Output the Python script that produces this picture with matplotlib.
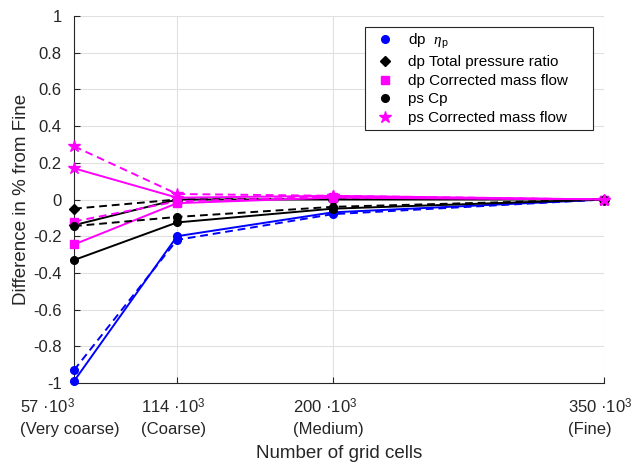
import matplotlib
matplotlib.use("Agg")
import matplotlib.pyplot as plt
import matplotlib.transforms as mtransforms
from matplotlib.lines import Line2D

plt.rcParams['font.family'] = ['Liberation Sans', 'DejaVu Sans']
plt.rcParams['mathtext.fontset'] = 'custom'
plt.rcParams['mathtext.rm'] = 'Liberation Sans'
plt.rcParams['mathtext.it'] = 'Liberation Serif:italic'

# Data
grid_cells = [57, 114, 200, 350]
tick_labels = ["57 \u00b710$^{3}$" + "\n(Very coarse)",
               "114 \u00b710$^{3}$" + "\n(Coarse)",
               "200 \u00b710$^{3}$" + "\n(Medium)",
               "350 \u00b710$^{3}$" + "\n(Fine)"]

dp_eta_solid = [-0.99, -0.20, -0.07, 0.0]
dp_eta_dashed = [-0.93, -0.22, -0.08, 0.0]
dp_tpr_solid = [-0.14, 0.0, 0.0, 0.0]
dp_tpr_dashed = [-0.05, 0.0, 0.005, 0.0]
dp_mass_solid = [-0.245, -0.02, 0.01, 0.0]
dp_mass_dashed = [-0.12, -0.01, 0.015, 0.0]
ps_cp_solid = [-0.33, -0.125, -0.05, 0.0]
ps_cp_dashed = [-0.145, -0.095, -0.04, 0.0]
ps_mass_solid = [0.17, 0.01, 0.02, 0.0]
ps_mass_dashed = [0.29, 0.03, 0.02, 0.0]

legend_labels = [r"dp  $\it{\eta}_{\rm p}$", "dp Total pressure ratio",
                 "dp Corrected mass flow", "ps Cp", "ps Corrected mass flow"]

BLUE = (0, 0, 1)
BLACK = (0, 0, 0)
MAG = (1, 0, 1)
DARK = (0.15, 0.15, 0.15)

fig = plt.figure(figsize=(6.34, 4.63), dpi=100)
ax = fig.add_axes([74/634, 1 - 383/463, 530/634, 367/463])

lw = 1.4
series = [
    (dp_eta_solid, dp_eta_dashed, BLUE, 'o', 5.5),
    (dp_tpr_solid, dp_tpr_dashed, BLACK, 'D', 5),
    (dp_mass_solid, dp_mass_dashed, MAG, 's', 5.5),
    (ps_cp_solid, ps_cp_dashed, BLACK, 'o', 5.5),
    (ps_mass_solid, ps_mass_dashed, MAG, '*', 9),
]
for s, d, c, m, ms in series:
    ax.plot(grid_cells, d, '--', color=c, marker=m, ms=ms, lw=lw, dashes=(4, 2.5), clip_on=False, zorder=3)
    ax.plot(grid_cells, s, '-', color=c, marker=m, ms=ms, lw=lw, clip_on=False, zorder=3)

ax.set_xlim(57, 350)
ax.set_ylim(-1, 1)
ax.set_xticks(grid_cells)
ax.tick_params(axis='x', labelbottom=False)
# x tick labels drawn as multi-line texts (block centred, lines left-aligned)
lab_tr = ax.get_xaxis_transform() + mtransforms.ScaledTranslation(-4/100, -14/100, fig.dpi_scale_trans)
for xv, lab in zip(grid_cells, tick_labels):
    ax.text(xv, 0, lab, transform=lab_tr, ha='center', va='top', multialignment='left',
            fontsize=12, linespacing=1.45, color=DARK, clip_on=False)

yt = [-1, -0.8, -0.6, -0.4, -0.2, 0, 0.2, 0.4, 0.6, 0.8, 1]
ax.set_yticks(yt)
ax.set_yticklabels([("%g" % v) for v in yt], fontsize=12, color=DARK)

ax.grid(True, color=(0.88, 0.88, 0.88), lw=0.8)
ax.set_axisbelow(True)
for side in ['top', 'right']:
    ax.spines[side].set_visible(False)
for side in ['left', 'bottom']:
    ax.spines[side].set_color(DARK)
    ax.spines[side].set_linewidth(0.8)
ax.tick_params(direction='in', length=4, width=0.8, color=DARK)
ax.tick_params(axis='y', pad=9)

ax.set_xlabel("Number of grid cells", fontsize=13.5, color=DARK)
ax.xaxis.set_label_coords(0.5, (383 - 445) / 367)
ax.set_ylabel("Difference in % from Fine", fontsize=13.5, color=DARK, labelpad=2)

handles = [Line2D([], [], ls='none', color=c, marker=m, ms=ms) for _, _, c, m, ms in series]
leg = ax.legend(handles, legend_labels, loc='upper left',
                bbox_to_anchor=((365-74)/530, 0.689, (593-365)/530, (130-27)/367),
                mode='expand',
                fontsize=11, frameon=True, fancybox=False, framealpha=1,
                edgecolor=DARK, handlelength=2.0, handletextpad=0.5,
                borderpad=0.3, labelspacing=0.3, borderaxespad=0)
leg.get_frame().set_linewidth(0.8)

fig.savefig("out.png", dpi=100)
